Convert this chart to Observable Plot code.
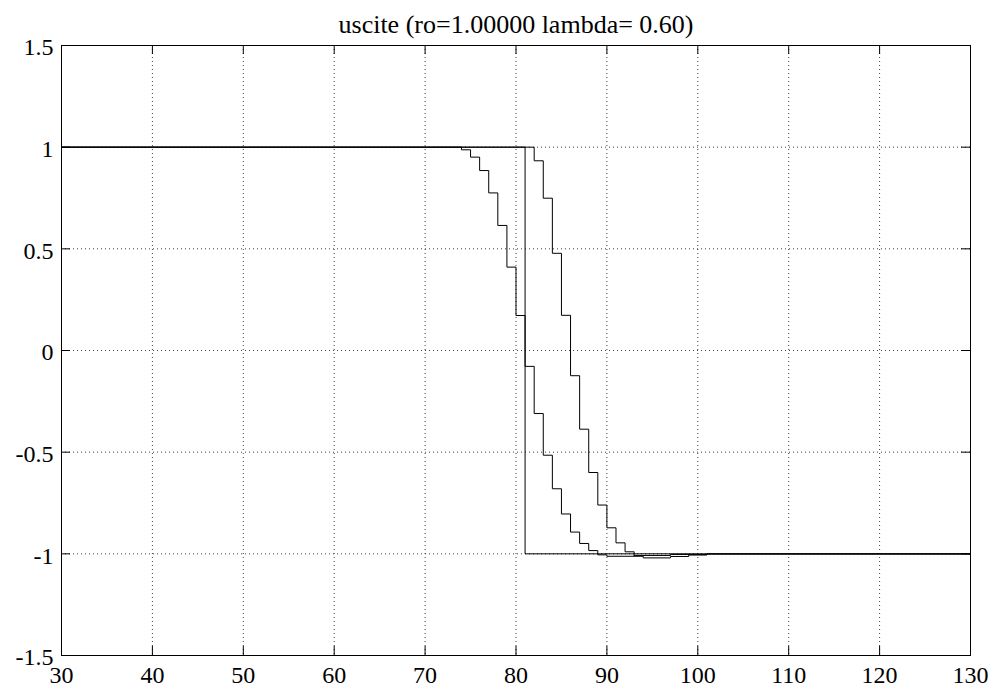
<!DOCTYPE html>
<html>
<head>
<meta charset="utf-8">
<script src="https://cdn.jsdelivr.net/npm/d3@7"></script>
<script src="https://cdn.jsdelivr.net/npm/@observablehq/plot@0.6"></script>
<style>
  html, body { margin: 0; padding: 0; background: #fff; }
  #chart svg, #chart svg text { font-family: "Liberation Serif", "Times New Roman", serif !important; }
</style>
</head>
<body>
<div id="chart"></div>
<script>
const titleText = "uscite (ro=1.00000 lambda= 0.60)";

const xTicks = [30, 40, 50, 60, 70, 80, 90, 100, 110, 120, 130];
const xTickLabels = ["30", "40", "50", "60", "70", "80", "90", "100", "110", "120", "130"];
const yTicks = [-1.5, -1, -0.5, 0, 0.5, 1, 1.5];
const yTickLabels = ["-1.5", "-1", "-0.5", "0", "0.5", "1", "1.5"];

// Ideal (instant) switch
const idealX = [30, 81, 130];
const idealY = [1, -1, -1];

// Leading (anticipating) response
const leadX = [30, 74, 75, 76, 77, 78, 79, 80, 81, 82, 83, 84, 85, 86, 87, 88, 89, 90, 93, 97, 101, 130];
const leadY = [1, 0.987, 0.951, 0.885, 0.775, 0.615, 0.41, 0.172, -0.078, -0.31, -0.515, -0.68, -0.804, -0.893, -0.949, -0.984, -1.005, -1.012, -1.008, -1.003, -1, -1];

// Lagging response
const lagX = [30, 82, 83, 84, 85, 86, 87, 88, 89, 90, 91, 92, 93, 94, 97, 99, 101, 130];
const lagY = [1, 0.933, 0.749, 0.478, 0.173, -0.124, -0.387, -0.6, -0.76, -0.872, -0.946, -0.99, -1.012, -1.02, -1.013, -1.006, -1.001, -1];

const series = [
  {name: "ideal", xs: idealX, ys: idealY},
  {name: "lead", xs: leadX, ys: leadY},
  {name: "lag", xs: lagX, ys: lagY}
];
const rows = series.flatMap(s => s.xs.map((x, i) => ({series: s.name, x, y: s.ys[i]})));

const W = 1001, H = 693;
const mL = 61, mR = 31, mT = 45, mB = 38;
const frameW = W - mL - mR, frameH = H - mT - mB;
const tickLen = 9;
const font = "Liberation Serif";
const gridStyle = {stroke: "#000", strokeOpacity: 0.75, strokeDasharray: "1,3", strokeWidth: 1};

const chart = Plot.plot({
  width: W,
  height: H,
  marginLeft: mL,
  marginRight: mR,
  marginTop: mT,
  marginBottom: mB,
  style: {fontFamily: font, background: "#fff", color: "#000"},
  x: {domain: [30, 130]},
  y: {domain: [-1.5, 1.5]},
  marks: [
    Plot.gridX(xTicks.slice(1, -1), gridStyle),
    Plot.gridY(yTicks.slice(1, -1), gridStyle),
    Plot.tickX(xTicks, {x: d => d, stroke: "#000", insetTop: frameH - tickLen}),
    Plot.tickX(xTicks, {x: d => d, stroke: "#000", insetBottom: frameH - tickLen}),
    Plot.tickY(yTicks, {y: d => d, stroke: "#000", insetRight: frameW - tickLen}),
    Plot.tickY(yTicks, {y: d => d, stroke: "#000", insetLeft: frameW - tickLen}),
    Plot.line(rows, {x: "x", y: "y", z: "series", curve: "step-after", stroke: "#000", strokeWidth: 1}),
    Plot.frame({stroke: "#000", strokeWidth: 1}),
    Plot.axisX(xTicks, {
      label: null, tickSize: 0, tickPadding: 10, fontSize: 24, fontFamily: font,
      tickFormat: d => xTickLabels[xTicks.indexOf(d)]
    }),
    Plot.axisY(yTicks, {
      label: null, tickSize: 0, tickPadding: 8, fontSize: 24, fontFamily: font, dy: 2,
      tickFormat: d => yTickLabels[yTicks.indexOf(d)]
    }),
    Plot.text([titleText], {
      text: d => d, frameAnchor: "top", lineAnchor: "middle", dy: -21,
      fontSize: 26, fontFamily: font, fill: "#000"
    })
  ]
});
document.getElementById("chart").appendChild(chart);
</script>
</body>
</html>
